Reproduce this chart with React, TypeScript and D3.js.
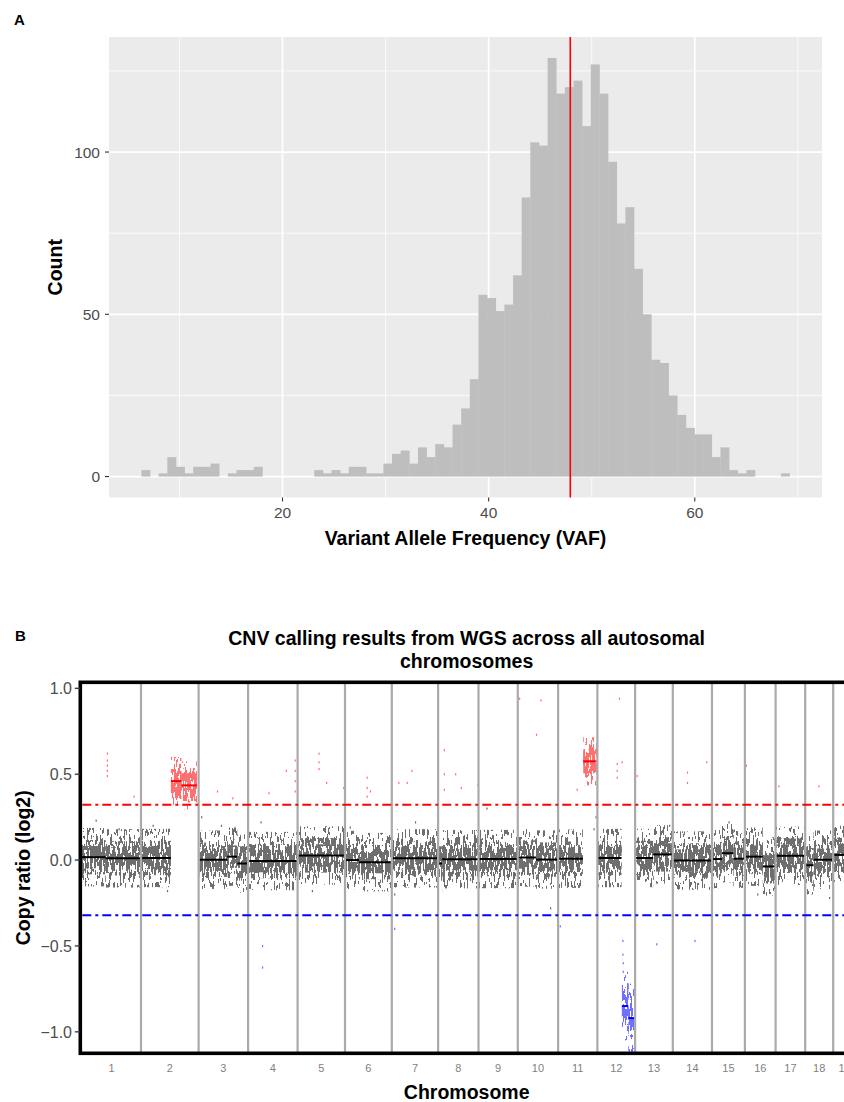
import React, { useEffect, useRef } from 'react'
import { format, max, scaleLinear, select, sum } from 'd3'

// ---- panel A: VAF histogram ----
const vafBinStart = 6.31
const vafBinWidth = 0.8385
const vafCounts = [
  2, 0, 1, 6, 3, 1, 3, 3, 4, 0, 1, 2, 2, 3, 0, 0, 0, 0, 0, 0,
  2, 1, 2, 1, 3, 3, 1, 1, 4, 7, 8, 4, 9, 6, 10, 9, 16, 21, 30, 56,
  55, 51, 53, 62, 86, 103, 102, 129, 118, 120, 122, 108, 127, 118, 97, 78, 83, 64, 50, 36,
  35, 25, 19, 15, 13, 13, 6, 9, 2, 1, 2, 0, 0, 0, 1,
]
const vafMedian = 47.92
const vafXTicks = [20, 40, 60]
const vafYTicks = [0, 50, 100]

// ---- panel B: CNV across autosomes ----
const chromNames = ['1', '2', '3', '4', '5', '6', '7', '8', '9', '10', '11', '12', '13', '14', '15', '16', '17', '18', '19', '20', '21', '22']
const chromBins = [590, 576, 495, 495, 474, 468, 463, 404, 393, 403, 393, 377, 377, 392, 329, 307, 296, 280, 230, 220, 140, 150]
const gainThreshold = Math.log2(1.25)
const lossThreshold = Math.log2(0.8)
const cnvYTicks = [-1, -0.5, 0, 0.5, 1]

// segments: chromosome, start/end as fraction of the chromosome, mean log2 ratio
const cnvSegments = [
  { chr: '1', from: 0, to: 0.4, log2: 0.017 },
  { chr: '1', from: 0.4, to: 1, log2: 0.01 },
  { chr: '2', from: 0, to: 0.52, log2: 0.012 },
  { chr: '2', from: 0.52, to: 0.7, log2: 0.46 },
  { chr: '2', from: 0.7, to: 0.97, log2: 0.435 },
  { chr: '3', from: 0.02, to: 0.58, log2: 0.002 },
  { chr: '3', from: 0.58, to: 0.78, log2: 0.02 },
  { chr: '3', from: 0.78, to: 1, log2: -0.02 },
  { chr: '4', from: 0, to: 1, log2: -0.006 },
  { chr: '5', from: 0, to: 1, log2: 0.027 },
  { chr: '6', from: 0, to: 0.3, log2: 0.0 },
  { chr: '6', from: 0.3, to: 1, log2: -0.012 },
  { chr: '7', from: 0, to: 1, log2: 0.01 },
  { chr: '8', from: 0, to: 0.1, log2: -0.02 },
  { chr: '8', from: 0.1, to: 1, log2: 0.005 },
  { chr: '9', from: 0, to: 1, log2: 0.006 },
  { chr: '10', from: 0, to: 0.45, log2: 0.015 },
  { chr: '10', from: 0.45, to: 1, log2: 0.003 },
  { chr: '11', from: 0, to: 0.63, log2: 0.008 },
  { chr: '11', from: 0.64, to: 0.98, log2: 0.575 },
  { chr: '12', from: 0.02, to: 0.64, log2: 0.012 },
  { chr: '12', from: 0.65, to: 0.82, log2: -0.85 },
  { chr: '12', from: 0.82, to: 0.98, log2: -0.92 },
  { chr: '13', from: 0.02, to: 0.48, log2: 0.012 },
  { chr: '13', from: 0.48, to: 1, log2: 0.033 },
  { chr: '14', from: 0, to: 1, log2: -0.003 },
  { chr: '15', from: 0, to: 0.3, log2: 0.006 },
  { chr: '15', from: 0.3, to: 0.65, log2: 0.04 },
  { chr: '15', from: 0.65, to: 1, log2: 0.008 },
  { chr: '16', from: 0, to: 0.58, log2: 0.02 },
  { chr: '16', from: 0.58, to: 1, log2: -0.037 },
  { chr: '17', from: 0, to: 1, log2: 0.025 },
  { chr: '18', from: 0, to: 0.3, log2: -0.03 },
  { chr: '18', from: 0.3, to: 1, log2: 0.002 },
  { chr: '19', from: 0, to: 1, log2: 0.03 },
  { chr: '20', from: 0, to: 1, log2: 0.01 },
  { chr: '21', from: 0, to: 1, log2: 0.0 },
  { chr: '22', from: 0, to: 1, log2: 0.01 },
]

// single bins far from their segment
const cnvOutliers = [
  ['1', 0.42, 0.62], ['1', 0.42, 0.58], ['1', 0.42, 0.55], ['1', 0.42, 0.52], ['1', 0.42, 0.49],
  ['1', 0.87, 0.37], ['3', 0.37, 0.4], ['3', 0.68, 0.36],
  ['4', 0.41, 0.39], ['4', 0.76, 0.52], ['4', 0.94, 0.58], ['4', 0.94, 0.52], ['4', 0.94, 0.46], ['4', 0.94, 0.4],
  ['5', 0.44, 0.62], ['5', 0.44, 0.57], ['5', 0.44, 0.53], ['5', 0.6, 0.45], ['5', 0.96, 0.42],
  ['6', 0.46, 0.48], ['6', 0.46, 0.42], ['6', 0.46, 0.37], ['6', 0.53, 0.4],
  ['7', 0.14, 0.45], ['7', 0.32, 0.45], ['7', 0.42, 0.52],
  ['8', 0.14, 0.64], ['8', 0.14, 0.5], ['8', 0.14, 0.41], ['8', 0.42, 0.5], ['8', 0.56, 0.42], ['8', 0.97, 0.44],
  ['10', 0.03, 0.94], ['10', 0.45, 0.73], ['10', 0.56, 0.93], ['10', 0.97, 0.38],
  ['11', 0.47, 0.41],
  ['12', 0.51, 0.56], ['12', 0.51, 0.52], ['12', 0.51, 0.48], ['12', 0.57, 0.94], ['12', 0.64, 0.57],
  ['13', 0.04, 0.49], ['14', 0.36, 0.51], ['14', 0.36, 0.45], ['14', 0.85, 0.57],
  ['16', 0.03, 0.55], ['17', 0.09, 0.43], ['17', 0.97, 0.47], ['17', 0.97, 0.44], ['18', 0.47, 0.43],
  ['4', 0.28, -0.5], ['4', 0.28, -0.625], ['13', 0.56, -0.49], ['14', 0.55, -0.47], ['7', 0.05, -0.4],
  ['11', 0.04, -0.385], ['12', 0.66, -0.47], ['12', 0.66, -0.55], ['12', 0.67, -0.6], ['12', 0.67, -0.65],
  ['1', 0.23, 0.23], ['1', 0.62, 0.18], ['1', 0.95, -0.15], ['2', 0.2, 0.2], ['2', 0.45, -0.18],
  ['3', 0.05, 0.25], ['3', 0.45, 0.2], ['4', 0.25, 0.22], ['5', 0.3, -0.18], ['6', 0.1, 0.19],
  ['7', 0.05, -0.2], ['7', 0.5, 0.22], ['9', 0.2, 0.3], ['10', 0.8, -0.28], ['11', 0.95, 0.25],
  ['11', 0.9, 0.18], ['12', 0.3, -0.12], ['13', 0.9, 0.2], ['15', 0.5, 0.22], ['16', 0.4, -0.2], ['18', 0.85, -0.22],
]

const W = 844
const H = 1102
const FONT = "'Liberation Sans', Arial, Helvetica, sans-serif"

const stateOf = (v) => (v > gainThreshold ? 'gain' : v < lossThreshold ? 'loss' : 'neutral')
const cloudColor = { neutral: '#6e6e6e', gain: '#ff7070', loss: '#7070ff' }
const lineColor = { neutral: '#000000', gain: '#ff0000', loss: '#0000ff' }
const spread = {
  neutral: [0.17, 0.1, 0.065],
  gain: [0.14, 0.1, 0.07],
  loss: [0.2, 0.11, 0.07],
}

const drawHistogram = (svg) => {
  const left = 109, right = 822, top = 37, bottom = 497.5
  const binEnd = vafBinStart + vafCounts.length * vafBinWidth
  const padX = (binEnd - vafBinStart) * 0.05
  const x = scaleLinear().domain([vafBinStart - padX, binEnd + padX]).range([left, right])
  const maxC = max(vafCounts)
  const y = scaleLinear().domain([-maxC * 0.05, maxC * 1.05]).range([bottom, top])

  const g = svg.append('g')
  g.append('rect').attr('x', left).attr('y', top).attr('width', right - left).attr('height', bottom - top).attr('fill', '#ebebeb')

  const xs = vafXTicks[1] - vafXTicks[0]
  const xMinor = [vafXTicks[0] - xs / 2, ...vafXTicks.map((t) => t + xs / 2)].filter((t) => t > x.domain()[0] && t < x.domain()[1])
  const ys = vafYTicks[1] - vafYTicks[0]
  const yMinor = [vafYTicks[0] - ys / 2, ...vafYTicks.map((t) => t + ys / 2)].filter((t) => t > y.domain()[0] && t < y.domain()[1])

  g.selectAll('.xminor').data(xMinor).enter().append('line')
    .attr('x1', (d) => x(d)).attr('x2', (d) => x(d)).attr('y1', top).attr('y2', bottom)
    .attr('stroke', '#fff').attr('stroke-width', 0.8)
  g.selectAll('.yminor').data(yMinor).enter().append('line')
    .attr('x1', left).attr('x2', right).attr('y1', (d) => y(d)).attr('y2', (d) => y(d))
    .attr('stroke', '#fff').attr('stroke-width', 0.8)
  g.selectAll('.xmajor').data(vafXTicks).enter().append('line')
    .attr('x1', (d) => x(d)).attr('x2', (d) => x(d)).attr('y1', top).attr('y2', bottom)
    .attr('stroke', '#fff').attr('stroke-width', 1.7)
  g.selectAll('.ymajor').data(vafYTicks).enter().append('line')
    .attr('x1', left).attr('x2', right).attr('y1', (d) => y(d)).attr('y2', (d) => y(d))
    .attr('stroke', '#fff').attr('stroke-width', 1.7)

  g.selectAll('.bar').data(vafCounts).enter().append('rect')
    .attr('x', (d, i) => x(vafBinStart + i * vafBinWidth))
    .attr('width', (d, i) => x(vafBinStart + (i + 1) * vafBinWidth) - x(vafBinStart + i * vafBinWidth) + 0.3)
    .attr('y', (d) => y(d))
    .attr('height', (d) => y(0) - y(d))
    .attr('fill', '#bebebe')

  g.append('line').attr('x1', x(vafMedian)).attr('x2', x(vafMedian)).attr('y1', top).attr('y2', bottom)
    .attr('stroke', '#ff0000').attr('stroke-width', 1.6)

  // axes
  g.selectAll('.xt').data(vafXTicks).enter().append('line')
    .attr('x1', (d) => x(d)).attr('x2', (d) => x(d)).attr('y1', bottom).attr('y2', bottom + 4)
    .attr('stroke', '#333').attr('stroke-width', 1.1)
  g.selectAll('.xl').data(vafXTicks).enter().append('text')
    .attr('x', (d) => x(d)).attr('y', 518).attr('text-anchor', 'middle')
    .attr('font-size', 15.5).attr('fill', '#4d4d4d').text((d) => d)
  g.selectAll('.yt').data(vafYTicks).enter().append('line')
    .attr('x1', left - 4).attr('x2', left).attr('y1', (d) => y(d)).attr('y2', (d) => y(d))
    .attr('stroke', '#333').attr('stroke-width', 1.1)
  g.selectAll('.yl').data(vafYTicks).enter().append('text')
    .attr('x', 100).attr('y', (d) => y(d)).attr('dy', '0.36em').attr('text-anchor', 'end')
    .attr('font-size', 15.5).attr('fill', '#4d4d4d').text((d) => d)

  g.append('text').attr('x', (left + right) / 2).attr('y', 545).attr('text-anchor', 'middle')
    .attr('font-size', 19.5).attr('font-weight', 'bold').text('Variant Allele Frequency (VAF)')
  g.append('text').attr('transform', `translate(62, ${(top + bottom) / 2}) rotate(-90)`).attr('text-anchor', 'middle')
    .attr('font-size', 19.5).attr('font-weight', 'bold').text('Count')
  g.append('text').attr('x', 14).attr('y', 25).attr('font-size', 15).attr('font-weight', 'bold').text('A')
}

// speckle texture for the dense bin clouds: keeps pixels where the noise passes a threshold
const addSpeckle = (defs, id, table) => {
  const f = defs.append('filter').attr('id', id).attr('color-interpolation-filters', 'sRGB')
    .attr('x', '0%').attr('y', '0%').attr('width', '100%').attr('height', '100%')
  f.append('feTurbulence').attr('type', 'fractalNoise').attr('baseFrequency', '0.55 0.11')
    .attr('numOctaves', 2).attr('seed', 11).attr('result', 'n')
  f.append('feColorMatrix').attr('in', 'n').attr('type', 'matrix')
    .attr('values', '0 0 0 0 0  0 0 0 0 0  0 0 0 0 0  4 0 0 0 -1.5').attr('result', 'a')
  f.append('feComponentTransfer').attr('in', 'a').attr('result', 'm')
    .append('feFuncA').attr('type', 'discrete').attr('tableValues', table)
  f.append('feComposite').attr('in', 'SourceGraphic').attr('in2', 'm').attr('operator', 'in')
}

const drawCnv = (svg) => {
  const left = 80.3, right = 853, top = 682.3, bottom = 1053.3
  const total = sum(chromBins)
  const starts = chromBins.map((d, i) => sum(chromBins.slice(0, i)))
  const x = scaleLinear().domain([0, total]).range([82, 82 + total * 0.1])
  const y = scaleLinear().domain([-1.125, 1.035]).range([bottom, top])
  const pos = (chr, f) => {
    const i = chromNames.indexOf(chr)
    return x(starts[i] + f * chromBins[i])
  }

  const defs = svg.append('defs')
  addSpeckle(defs, 'spk-outer', '0 0 0 0 0 0 0 1')
  addSpeckle(defs, 'spk-mid', '0 0 1 1')
  addSpeckle(defs, 'spk-core', '0 1 1 1 1 1 1 1')

  const g = svg.append('g')
  const layers = ['spk-outer', 'spk-mid', 'spk-core']
  layers.forEach((id, li) => {
    g.append('g').attr('filter', `url(#${id})`)
      .selectAll('rect').data(cnvSegments).enter().append('rect')
      .attr('x', (d) => pos(d.chr, d.from))
      .attr('width', (d) => pos(d.chr, d.to) - pos(d.chr, d.from))
      .attr('y', (d) => y(d.log2 + spread[stateOf(d.log2)][li]))
      .attr('height', (d) => y(d.log2 - spread[stateOf(d.log2)][li]) - y(d.log2 + spread[stateOf(d.log2)][li]))
      .attr('fill', (d) => cloudColor[stateOf(d.log2)])
  })

  g.selectAll('.out').data(cnvOutliers).enter().append('rect')
    .attr('x', (d) => pos(d[0], d[1]))
    .attr('y', (d) => y(d[2]) - 1)
    .attr('width', 1.2).attr('height', 2.2)
    .attr('fill', (d) => cloudColor[stateOf(d[2])])

  g.selectAll('.seg').data(cnvSegments).enter().append('line')
    .attr('x1', (d) => pos(d.chr, d.from)).attr('x2', (d) => pos(d.chr, d.to))
    .attr('y1', (d) => y(d.log2)).attr('y2', (d) => y(d.log2))
    .attr('stroke', (d) => lineColor[stateOf(d.log2)]).attr('stroke-width', 2)

  // chromosome separators
  g.selectAll('.sep').data(starts.slice(1)).enter().append('line')
    .attr('x1', (d) => x(d)).attr('x2', (d) => x(d)).attr('y1', top).attr('y2', bottom)
    .attr('stroke', '#aaaaaa').attr('stroke-width', 2.2)

  // thresholds
  ;[[gainThreshold, '#ff0000'], [lossThreshold, '#0000ff']].forEach(([v, c]) => {
    g.append('line').attr('x1', left + 2).attr('x2', W + 20).attr('y1', y(v)).attr('y2', y(v))
      .attr('stroke', c).attr('stroke-width', 2).attr('stroke-dasharray', '9,4,3,4')
  })

  // frame
  g.append('rect').attr('x', left).attr('y', top).attr('width', W + 40 - left).attr('height', bottom - top)
    .attr('fill', 'none').attr('stroke', '#000').attr('stroke-width', 3.6)

  // y axis
  g.selectAll('.ct').data(cnvYTicks).enter().append('line')
    .attr('x1', left - 5.5).attr('x2', left).attr('y1', (d) => y(d)).attr('y2', (d) => y(d))
    .attr('stroke', '#333').attr('stroke-width', 1.3)
  g.selectAll('.cl').data(cnvYTicks).enter().append('text')
    .attr('x', 72).attr('y', (d) => y(d)).attr('dy', '0.36em').attr('text-anchor', 'end')
    .attr('font-size', 16).attr('fill', '#4d4d4d').text((d) => format('.1f')(d))

  // chromosome labels
  g.selectAll('.chl').data(chromNames).enter().append('text')
    .attr('x', (d, i) => x(starts[i] + chromBins[i] / 2)).attr('y', 1072).attr('text-anchor', 'middle')
    .attr('font-size', 11).attr('fill', '#7f7f7f').text((d) => d)

  const cx = (left + right) / 2
  g.append('text').attr('x', cx).attr('y', 645).attr('text-anchor', 'middle')
    .attr('font-size', 19.5).attr('font-weight', 'bold').text('CNV calling results from WGS across all autosomal')
  g.append('text').attr('x', cx).attr('y', 668).attr('text-anchor', 'middle')
    .attr('font-size', 19.5).attr('font-weight', 'bold').text('chromosomes')
  g.append('text').attr('x', cx).attr('y', 1099).attr('text-anchor', 'middle')
    .attr('font-size', 19.5).attr('font-weight', 'bold').text('Chromosome')
  g.append('text').attr('transform', `translate(30, ${(top + bottom) / 2}) rotate(-90)`).attr('text-anchor', 'middle')
    .attr('font-size', 19.5).attr('font-weight', 'bold').text('Copy ratio (log2)')
  g.append('text').attr('x', 15).attr('y', 641).attr('font-size', 15).attr('font-weight', 'bold').text('B')
}

const App = () => {
  const ref = useRef(null)

  useEffect(() => {
    const svg = select(ref.current)
    svg.selectAll('*').remove()
    drawHistogram(svg)
    drawCnv(svg)
  }, [])

  return (
    <svg
      ref={ref}
      width={W}
      height={H}
      fontFamily={FONT}
      style={{ position: 'absolute', left: 0, top: 0, background: '#fff' }}
    ></svg>
  )
}

export default App
